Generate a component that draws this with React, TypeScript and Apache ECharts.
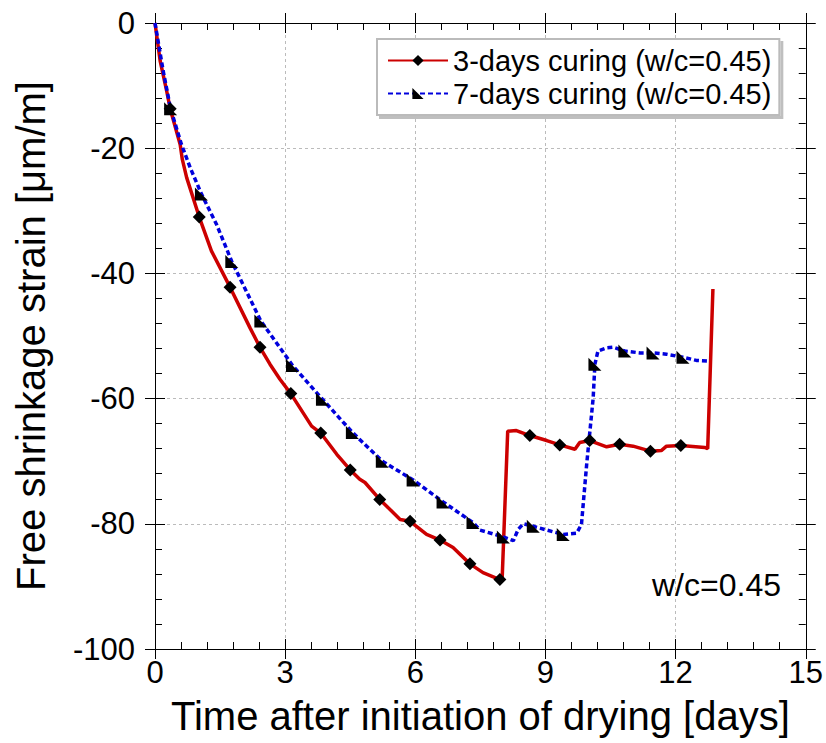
import React, { useEffect, useRef } from "react";
import * as echarts from "echarts";

const FONT = "'Liberation Sans', Arial, sans-serif";

// 3-days curing (w/c=0.45): line trace
const redDays = [0, 0.12, 0.27, 0.35, 0.58, 0.63, 0.73, 1.02, 1.3, 1.73, 2.19, 2.42, 2.65, 2.88, 3.13, 3.61, 3.82, 4.19, 4.5, 4.72, 4.84, 5.18, 5.65, 5.88, 6.26, 6.57, 6.87, 7.26, 7.56, 7.95, 8.0, 8.13, 8.33, 8.64, 9.03, 9.33, 9.68, 9.79, 10.02, 10.41, 10.71, 11.02, 11.42, 11.67, 11.79, 12.12, 12.67, 12.74, 12.86];
const redStrain = [0, -6.1, -10.9, -13.7, -19.4, -21.8, -24.7, -31.0, -36.4, -42.2, -48.7, -51.8, -54.5, -56.9, -59.2, -64.4, -65.5, -68.9, -71.4, -72.9, -73.4, -76.1, -79.3, -79.6, -81.7, -82.6, -83.8, -86.4, -87.8, -88.9, -89.2, -65.2, -65.1, -65.9, -66.7, -67.4, -68.1, -67.0, -66.7, -67.7, -67.3, -67.6, -68.4, -68.3, -67.6, -67.5, -67.8, -68.0, -42.5];
// 3-days curing markers
const redMarkDays = [0.35, 1.02, 1.73, 2.42, 3.13, 3.82, 4.5, 5.18, 5.88, 6.57, 7.26, 7.95, 8.64, 9.33, 10.02, 10.71, 11.42, 12.12];
const redMarkStrain = [-13.7, -31.0, -42.2, -51.8, -59.2, -65.5, -71.4, -76.1, -79.6, -82.6, -86.4, -88.9, -65.9, -67.4, -66.7, -67.3, -68.4, -67.5];

// 7-days curing (w/c=0.45): line trace
const blueDays = [0, 0.19, 0.36, 0.61, 0.81, 1.07, 1.42, 1.77, 2.44, 3.17, 3.86, 4.55, 5.24, 5.95, 6.64, 7.33, 7.49, 8.03, 8.26, 8.37, 8.49, 8.72, 9.03, 9.41, 9.72, 9.83, 9.95, 10.1, 10.14, 10.21, 10.41, 10.56, 10.83, 11.18, 11.48, 11.79, 12.17, 12.48, 12.77];
const blueStrain = [0, -7.7, -13.7, -19.4, -23.1, -27.3, -32.2, -38.1, -47.6, -54.7, -60.1, -65.4, -70.0, -73.0, -76.5, -79.8, -81.0, -82.1, -82.7, -80.9, -80.0, -80.4, -81.0, -81.7, -81.5, -80.1, -70.5, -59.9, -54.5, -52.4, -51.9, -51.8, -52.4, -52.7, -52.7, -52.9, -53.4, -53.9, -54.0];
// 7-days curing markers
const blueMarkDays = [0.36, 1.07, 1.77, 2.44, 3.17, 3.86, 4.55, 5.24, 5.95, 6.64, 7.33, 8.03, 8.72, 9.41, 10.14, 10.83, 11.48, 12.17];
const blueMarkStrain = [-13.7, -27.3, -38.1, -47.6, -54.7, -60.1, -65.4, -70.0, -73.0, -76.5, -79.8, -82.1, -80.4, -81.7, -54.5, -52.4, -52.7, -53.4];

const seriesNames = ["3-days curing (w/c=0.45)", "7-days curing (w/c=0.45)"];
const xTitle = "Time after initiation of drying [days]";
const yTitle = "Free shrinkage strain [μm/m]";
const noteText = "w/c=0.45";

const zip = (a: number[], b: number[]) => a.map((v, i) => [v, b[i]]);

const TRI = "path://M0,0 L0,10 L10,10 Z";
const RED = "#cc0000";
const BLUE = "#0000dd";

export default function App() {
  const ref = useRef<HTMLDivElement>(null);
  useEffect(() => {
    if (!ref.current) return;
    const chart = echarts.init(ref.current, null, { renderer: "svg" });
    const axisBlack = { color: "#000", width: 1 };
    const xCommon = { type: "value", min: 0, max: 15, interval: 3, gridIndex: 0 };
    const yCommon = { type: "value", min: -100, max: 0, interval: 20, gridIndex: 0 };
    const inner = {
      axisLine: { show: true, onZero: false, lineStyle: axisBlack },
      axisTick: { show: true, inside: true, length: 10, lineStyle: axisBlack },
      minorTick: { show: true, splitNumber: 5, length: 7, lineStyle: axisBlack },
    };
    const outer = {
      axisLine: { show: false, onZero: false },
      axisTick: { show: true, inside: false, length: 10, lineStyle: axisBlack },
      axisLabel: { show: false },
      splitLine: { show: false },
    };
    const split = { show: true, lineStyle: { color: "#bbbbbb", type: [3, 3], width: 1 } };
    chart.setOption({
      animation: false,
      backgroundColor: "#fff",
      textStyle: { fontFamily: FONT },
      title: {
        text: noteText,
        left: 652,
        top: 569,
        padding: 0,
        textStyle: { fontSize: 32, fontWeight: "normal", color: "#000", fontFamily: FONT },
      },
      grid: { left: 155, top: 23, right: 20, bottom: 94, containLabel: false },
      legend: {
        show: true,
        data: seriesNames,
        orient: "vertical",
        left: 377,
        top: 39,
        padding: [7, 8, 7, 10],
        itemGap: 4,
        itemWidth: 60,
        itemHeight: 14,
        backgroundColor: "#fff",
        borderColor: "#bbbbbb",
        borderWidth: 2,
        borderRadius: 0,
        shadowColor: "rgba(0,0,0,0.25)",
        shadowOffsetX: 3,
        shadowOffsetY: 3,
        shadowBlur: 0,
        textStyle: { fontSize: 29, color: "#000", fontFamily: FONT },
      },
      xAxis: [
        {
          ...xCommon,
          position: "bottom",
          ...inner,
          axisLabel: { show: true, fontSize: 31, color: "#000", margin: 8, fontFamily: FONT },
          splitLine: split,
          name: xTitle,
          nameLocation: "middle",
          nameGap: 47,
          nameTextStyle: { fontSize: 40, color: "#000", fontFamily: FONT },
        },
        { ...xCommon, position: "bottom", ...outer },
        { ...xCommon, position: "top", ...inner, axisLabel: { show: false }, splitLine: { show: false } },
        { ...xCommon, position: "top", ...outer },
      ],
      yAxis: [
        {
          ...yCommon,
          position: "left",
          ...inner,
          axisLabel: { show: true, fontSize: 31, color: "#000", margin: 20, fontFamily: FONT },
          splitLine: split,
          name: yTitle,
          nameLocation: "middle",
          nameGap: 104,
          nameTextStyle: { fontSize: 40, color: "#000", fontFamily: FONT },
        },
        { ...yCommon, position: "left", ...outer },
        { ...yCommon, position: "right", ...inner, axisLabel: { show: false }, splitLine: { show: false } },
        { ...yCommon, position: "right", ...outer },
      ],
      series: [
        {
          name: seriesNames[0],
          type: "line",
          data: zip(redDays, redStrain),
          showSymbol: false,
          symbol: "diamond",
          symbolSize: 12,
          itemStyle: { color: "#000" },
          lineStyle: { color: RED, width: 3.5 },
          z: 3,
        },
        {
          name: seriesNames[1],
          type: "line",
          data: zip(blueDays, blueStrain),
          showSymbol: false,
          symbol: TRI,
          symbolSize: 12,
          itemStyle: { color: "#000" },
          lineStyle: { color: BLUE, width: 3.5, type: [5, 3] },
          z: 4,
        },
        {
          name: seriesNames[0] + " markers",
          type: "scatter",
          data: zip(redMarkDays, redMarkStrain),
          symbol: "diamond",
          symbolSize: 13,
          itemStyle: { color: "#000", opacity: 1 },
          z: 5,
        },
        {
          name: seriesNames[1] + " markers",
          type: "scatter",
          data: zip(blueMarkDays, blueMarkStrain),
          symbol: TRI,
          symbolSize: 13,
          itemStyle: { color: "#000", opacity: 1 },
          z: 6,
        },
      ],
    });
    return () => chart.dispose();
  }, []);
  return (
    <div
      ref={ref}
      style={{ position: "fixed", left: 0, top: 0, width: 826, height: 743, background: "#fff" }}
    />
  );
}
